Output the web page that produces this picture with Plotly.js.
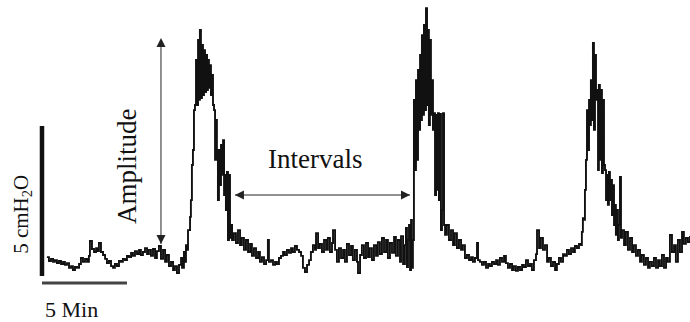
<!DOCTYPE html>
<html>
<head>
<meta charset="utf-8">
<script src="https://cdn.plot.ly/plotly-3.0.1.min.js"></script>
<style>html,body{margin:0;padding:0;background:#fff;}#chart{width:690px;height:322px;}</style>
</head>
<body>
<div id="chart"></div>
<script>
// Time (min) and pressure (cmH2O)
const timeMin = [0.29,0.41,0.53,0.65,0.76,0.88,1.00,1.12,1.24,1.35,1.47,1.59,1.71,1.82,1.94,2.06,2.18,2.29,2.41,2.53,2.65,2.76,2.82,2.94,3.06,3.18,3.29,3.35,3.47,3.59,3.71,3.82,3.94,4.06,4.18,4.29,4.41,4.53,4.65,4.76,4.88,5.00,5.12,5.24,5.35,5.47,5.59,5.71,5.82,5.94,6.06,6.18,6.29,6.41,6.53,6.65,6.76,6.88,7.00,7.12,7.24,7.35,7.47,7.59,7.71,7.82,7.94,8.06,8.18,8.24,8.35,8.41,8.47,8.53,8.59,8.71,8.76,8.82,8.88,8.94,9.00,9.06,9.12,9.18,9.24,9.29,9.35,9.41,9.47,9.53,9.59,9.65,9.71,9.76,9.82,9.88,9.94,10.00,10.06,10.12,10.18,10.24,10.29,10.35,10.41,10.47,10.53,10.59,10.65,10.71,10.76,10.82,10.88,10.94,11.00,11.06,11.12,11.18,11.29,11.41,11.53,11.65,11.76,11.88,12.00,12.12,12.24,12.35,12.47,12.59,12.71,12.82,12.94,13.06,13.18,13.29,13.35,13.47,13.59,13.71,13.82,13.94,14.06,14.18,14.29,14.41,14.53,14.65,14.76,14.88,15.00,15.12,15.24,15.35,15.47,15.59,15.71,15.82,15.94,16.06,16.12,16.24,16.35,16.47,16.59,16.71,16.82,16.94,17.06,17.12,17.24,17.35,17.47,17.59,17.71,17.82,17.94,18.06,18.18,18.29,18.41,18.53,18.59,18.71,18.82,18.94,19.06,19.18,19.29,19.41,19.53,19.65,19.76,19.88,20.00,20.12,20.24,20.35,20.47,20.59,20.71,20.82,20.94,21.06,21.12,21.24,21.35,21.41,21.47,21.53,21.59,21.65,21.71,21.76,21.82,21.88,21.94,22.00,22.06,22.12,22.18,22.24,22.29,22.35,22.41,22.47,22.53,22.59,22.65,22.71,22.76,22.82,22.88,22.94,23.00,23.06,23.12,23.18,23.24,23.29,23.35,23.41,23.47,23.53,23.59,23.65,23.71,23.82,23.94,24.06,24.18,24.29,24.41,24.53,24.65,24.76,24.88,25.00,25.12,25.24,25.35,25.47,25.59,25.65,25.76,25.88,26.00,26.12,26.24,26.35,26.47,26.59,26.71,26.82,26.94,27.06,27.18,27.29,27.41,27.53,27.65,27.76,27.88,28.00,28.12,28.24,28.35,28.47,28.59,28.71,28.82,28.94,29.06,29.12,29.24,29.35,29.47,29.59,29.71,29.82,29.94,30.06,30.18,30.29,30.41,30.53,30.65,30.76,30.88,31.00,31.12,31.24,31.35,31.47,31.59,31.71,31.76,31.82,31.88,31.94,32.00,32.06,32.12,32.18,32.24,32.29,32.35,32.41,32.47,32.53,32.59,32.65,32.71,32.76,32.82,32.88,32.94,33.00,33.06,33.12,33.18,33.24,33.29,33.35,33.41,33.47,33.53,33.59,33.65,33.71,33.76,33.82,33.88,33.94,34.00,34.06,34.12,34.24,34.35,34.47,34.59,34.71,34.82,34.94,35.06,35.18,35.29,35.41,35.53,35.65,35.76,35.88,36.00,36.12,36.24,36.35,36.47,36.59,36.71,36.82,36.94,37.06,37.18,37.29,37.41,37.53,37.65,37.76,37.88,38.00,38.12];
const pressure = [0.63,0.50,0.57,0.47,0.53,0.43,0.50,0.40,0.47,0.37,0.43,0.27,0.33,0.20,0.30,0.27,0.40,0.60,0.47,0.57,0.47,0.67,1.17,0.90,0.80,0.93,0.83,1.10,0.80,0.70,0.57,0.43,0.50,0.33,0.27,0.40,0.33,0.50,0.47,0.57,0.53,0.67,0.63,0.77,0.67,0.83,0.73,0.87,0.70,0.80,0.93,0.73,0.87,0.67,0.90,0.60,0.83,1.00,0.57,0.87,0.47,0.70,0.33,0.47,0.20,0.33,0.10,0.37,0.60,0.27,0.80,0.47,1.03,0.87,1.53,1.97,2.53,3.70,4.20,5.53,5.70,7.20,5.70,7.87,5.87,8.20,5.93,7.70,6.03,7.53,6.13,7.37,6.20,7.20,6.27,7.03,6.03,6.70,5.70,5.53,3.87,5.20,4.20,2.53,4.20,3.03,4.37,3.37,4.53,2.70,3.37,2.20,3.47,1.20,3.37,1.27,1.70,1.20,1.43,1.10,1.53,1.03,1.27,0.87,1.20,0.80,1.07,0.67,0.93,0.60,0.80,0.47,0.63,0.40,0.53,1.20,0.47,0.53,0.37,0.47,0.40,0.60,0.67,0.80,0.70,0.87,0.77,0.93,0.80,1.00,0.87,0.80,0.67,0.27,0.13,0.37,0.53,0.80,1.03,0.87,1.43,0.93,1.07,0.80,1.20,0.87,1.27,0.80,1.10,1.53,0.87,0.47,0.93,0.60,0.87,0.47,1.07,0.70,1.00,0.53,0.87,0.47,0.10,0.70,1.03,0.60,1.10,0.63,0.93,0.53,1.03,0.67,1.13,0.73,1.27,0.80,1.20,0.60,1.10,0.77,1.30,0.67,1.20,0.47,1.33,0.40,1.03,1.60,0.30,1.20,1.70,0.20,1.87,0.27,1.20,5.87,3.53,6.53,3.87,6.87,4.87,7.37,5.20,8.03,5.37,8.37,5.53,8.93,5.70,8.20,5.03,7.87,5.37,6.53,4.87,5.43,2.70,5.37,2.87,5.43,2.53,5.40,1.53,2.20,5.43,1.70,1.37,1.70,1.20,1.53,1.03,1.43,0.93,1.20,0.87,1.03,0.60,0.70,0.53,0.63,0.47,0.60,1.10,0.53,0.47,0.37,0.47,0.27,0.40,0.33,0.47,0.40,0.53,0.37,0.60,0.47,0.67,0.43,0.27,0.40,0.20,0.33,0.17,0.30,0.20,0.37,0.30,0.53,0.33,0.40,0.20,0.53,0.73,1.53,0.93,1.27,0.87,1.03,0.47,0.60,0.33,0.47,0.20,0.40,0.60,0.47,0.73,0.67,0.87,0.73,0.93,0.80,1.00,0.93,1.07,1.03,1.47,1.93,1.87,2.87,3.87,5.53,4.20,5.87,5.03,6.53,5.20,7.77,4.87,7.37,5.87,6.20,3.53,6.37,3.87,6.20,3.43,5.87,3.70,3.53,2.53,3.37,2.37,3.47,2.53,3.20,2.03,3.03,1.70,2.37,1.37,2.20,1.20,1.70,3.30,1.27,1.53,1.03,1.47,0.87,1.27,0.80,1.03,0.67,0.87,0.47,0.70,0.37,0.60,0.27,0.47,0.33,0.60,0.27,0.53,0.33,0.70,0.27,0.60,0.47,1.37,0.80,1.03,0.47,1.20,0.80,1.47,1.07,1.27,1.13,1.33];

// Scale bars: 5 min and 5 cmH2O
const scaleTimeX = [0, 5];
const scaleTimeY = [-0.23, -0.23];
const scalePressX = [0, 0];
const scalePressY = [0, 5];

// Double-headed arrows (data units)
const amplitudeArrowX = [7.0, 7.0];
const amplitudeArrowY = [1.07, 7.93];
const intervalArrowX = [11.35, 21.65];
const intervalArrowY = [2.7, 2.7];

const serif = '"Liberation Serif", "DejaVu Serif", serif';

const traces = [
  {x: timeMin, y: pressure, type: 'scatter', mode: 'lines',
   line: {color: '#111', width: 1.9, shape: 'hv'}, hoverinfo: 'skip'},
  {x: scalePressX, y: scalePressY, type: 'scatter', mode: 'lines',
   line: {color: '#111', width: 4.5}, hoverinfo: 'skip'},
  {x: scaleTimeX, y: scaleTimeY, type: 'scatter', mode: 'lines',
   line: {color: '#444', width: 3}, hoverinfo: 'skip'},
  {x: amplitudeArrowX, y: amplitudeArrowY, type: 'scatter', mode: 'lines+markers',
   line: {color: '#222', width: 1},
   marker: {symbol: ['arrow-down', 'arrow-up'], size: 9, color: '#222'}, hoverinfo: 'skip'},
  {x: intervalArrowX, y: intervalArrowY, type: 'scatter', mode: 'lines+markers',
   line: {color: '#222', width: 1},
   marker: {symbol: ['arrow-left', 'arrow-right'], size: 9, color: '#222'}, hoverinfo: 'skip'}
];

const layout = {
  width: 690, height: 322,
  margin: {l: 0, r: 0, t: 0, b: 0},
  paper_bgcolor: '#fff', plot_bgcolor: '#fff',
  showlegend: false,
  xaxis: {range: [-2.47, 38.12], visible: false, fixedrange: true},
  yaxis: {range: [-1.533, 9.2], visible: false, fixedrange: true},
  font: {family: serif, color: '#111'},
  annotations: [
    {x: 5.0, y: 3.67, xref: 'x', yref: 'y', text: 'Amplitude', textangle: -90,
     showarrow: false, font: {family: serif, size: 27, color: '#111'}},
    {x: 16.06, y: 3.9, xref: 'x', yref: 'y', text: 'Intervals',
     showarrow: false, font: {family: serif, size: 27, color: '#111'}},
    {x: -1.18, y: 2.07, xref: 'x', yref: 'y', text: '5 cmH<sub>2</sub>O', textangle: -90,
     showarrow: false, font: {family: serif, size: 21, color: '#111'}},
    {x: 1.76, y: -1.1, xref: 'x', yref: 'y', text: '5 Min',
     showarrow: false, font: {family: serif, size: 22, color: '#111'}}
  ]
};

Plotly.newPlot('chart', traces, layout, {staticPlot: true, displayModeBar: false});
</script>
</body>
</html>
